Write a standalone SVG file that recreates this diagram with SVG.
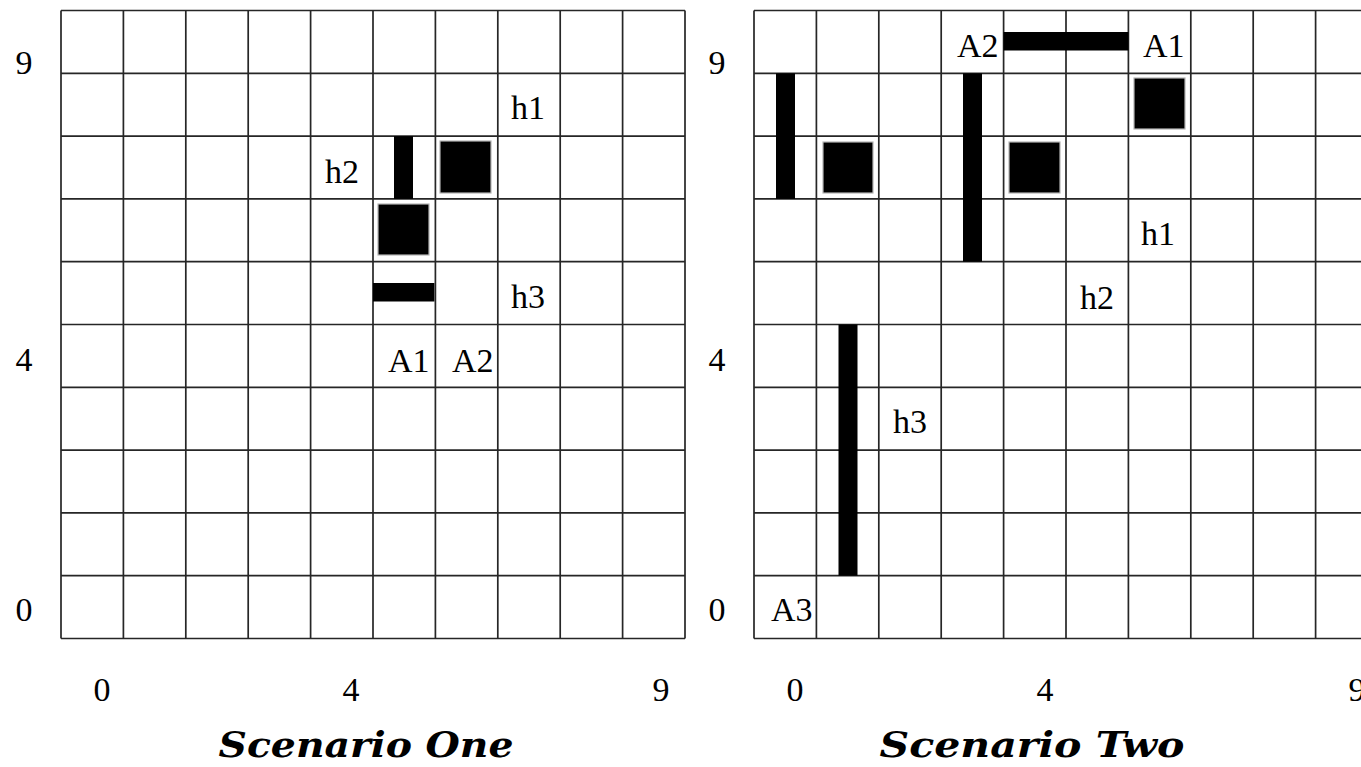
<svg xmlns="http://www.w3.org/2000/svg" width="1361" height="767" viewBox="0 0 1361 767">
<style>
.grid{stroke:#262626;stroke-width:1.7;fill:none}
.blk{fill:#000}
.sq{fill:#000;stroke:#b5b5b5;stroke-width:1.2}
.lbl{font-family:"Liberation Serif","Times New Roman",serif;font-size:34px;fill:#000}
.num{font-family:"Liberation Serif","Times New Roman",serif;font-size:34px;fill:#000;text-anchor:middle}
.ttl{font-family:"DejaVu Serif","Liberation Serif",serif;font-size:36px;font-weight:bold;font-style:italic;fill:#000;text-anchor:middle}
</style>
<rect width="1361" height="767" fill="#fff"/>

<g id="scenario-one">
  <g id="grid-one" class="grid">
    <path d="M61 10.5V638.5M123.4 10.5V638.5M185.8 10.5V638.5M248.2 10.5V638.5M310.6 10.5V638.5M373 10.5V638.5M435.4 10.5V638.5M497.8 10.5V638.5M560.2 10.5V638.5M622.6 10.5V638.5M685 10.5V638.5"/>
    <path d="M61 10.5H685M61 73.3H685M61 136.1H685M61 198.9H685M61 261.7H685M61 324.5H685M61 387.3H685M61 450.1H685M61 512.9H685M61 575.7H685M61 638.5H685"/>
  </g>
  <g id="objects-one">
    <rect class="blk" x="394" y="136.1" width="19" height="62.8"/>
    <rect class="sq" x="440" y="141" width="51" height="52"/>
    <rect class="sq" x="378" y="204" width="51" height="51"/>
    <rect class="blk" x="373" y="283" width="61.4" height="18.5"/>
  </g>
  <g id="labels-one">
    <text class="lbl" x="511" y="119">h1</text>
    <text class="lbl" x="325" y="183">h2</text>
    <text class="lbl" x="511" y="308">h3</text>
    <text class="lbl" x="388" y="372">A1</text>
    <text class="lbl" x="452" y="372">A2</text>
  </g>
  <g id="axes-one">
    <text class="num" x="24" y="74">9</text>
    <text class="num" x="24" y="371">4</text>
    <text class="num" x="24" y="621">0</text>
    <text class="num" x="102" y="701">0</text>
    <text class="num" x="351" y="701">4</text>
    <text class="num" x="661" y="701">9</text>
  </g>
  <text class="ttl" x="366" y="757" textLength="295" lengthAdjust="spacingAndGlyphs">Scenario One</text>
</g>

<g id="scenario-two">
  <g id="grid-two" class="grid">
    <path d="M754 10.5V638.5M816.4 10.5V638.5M878.8 10.5V638.5M941.2 10.5V638.5M1003.6 10.5V638.5M1066 10.5V638.5M1128.4 10.5V638.5M1190.8 10.5V638.5M1253.2 10.5V638.5M1315.6 10.5V638.5"/>
    <path d="M754 10.5H1362M754 73.3H1362M754 136.1H1362M754 198.9H1362M754 261.7H1362M754 324.5H1362M754 387.3H1362M754 450.1H1362M754 512.9H1362M754 575.7H1362M754 638.5H1362"/>
  </g>
  <g id="objects-two">
    <rect class="blk" x="1003.6" y="32" width="124.8" height="18.5"/>
    <rect class="blk" x="776" y="73.3" width="19" height="125.6"/>
    <rect class="sq" x="823" y="142" width="50" height="51"/>
    <rect class="blk" x="963" y="73.3" width="19" height="188.4"/>
    <rect class="sq" x="1009" y="142" width="51" height="51"/>
    <rect class="sq" x="1134" y="78" width="51" height="51"/>
    <rect class="blk" x="838.5" y="324.5" width="19" height="251.2"/>
  </g>
  <g id="labels-two">
    <text class="lbl" x="957" y="57">A2</text>
    <text class="lbl" x="1143" y="57">A1</text>
    <text class="lbl" x="1141" y="245">h1</text>
    <text class="lbl" x="1080" y="309">h2</text>
    <text class="lbl" x="893" y="433">h3</text>
    <text class="lbl" x="771" y="621">A3</text>
  </g>
  <g id="axes-two">
    <text class="num" x="717" y="74">9</text>
    <text class="num" x="717" y="371">4</text>
    <text class="num" x="717" y="621">0</text>
    <text class="num" x="795" y="701">0</text>
    <text class="num" x="1045" y="701">4</text>
    <text class="num" x="1357" y="701">9</text>
  </g>
  <text class="ttl" x="1032" y="757" textLength="305" lengthAdjust="spacingAndGlyphs">Scenario Two</text>
</g>
</svg>
